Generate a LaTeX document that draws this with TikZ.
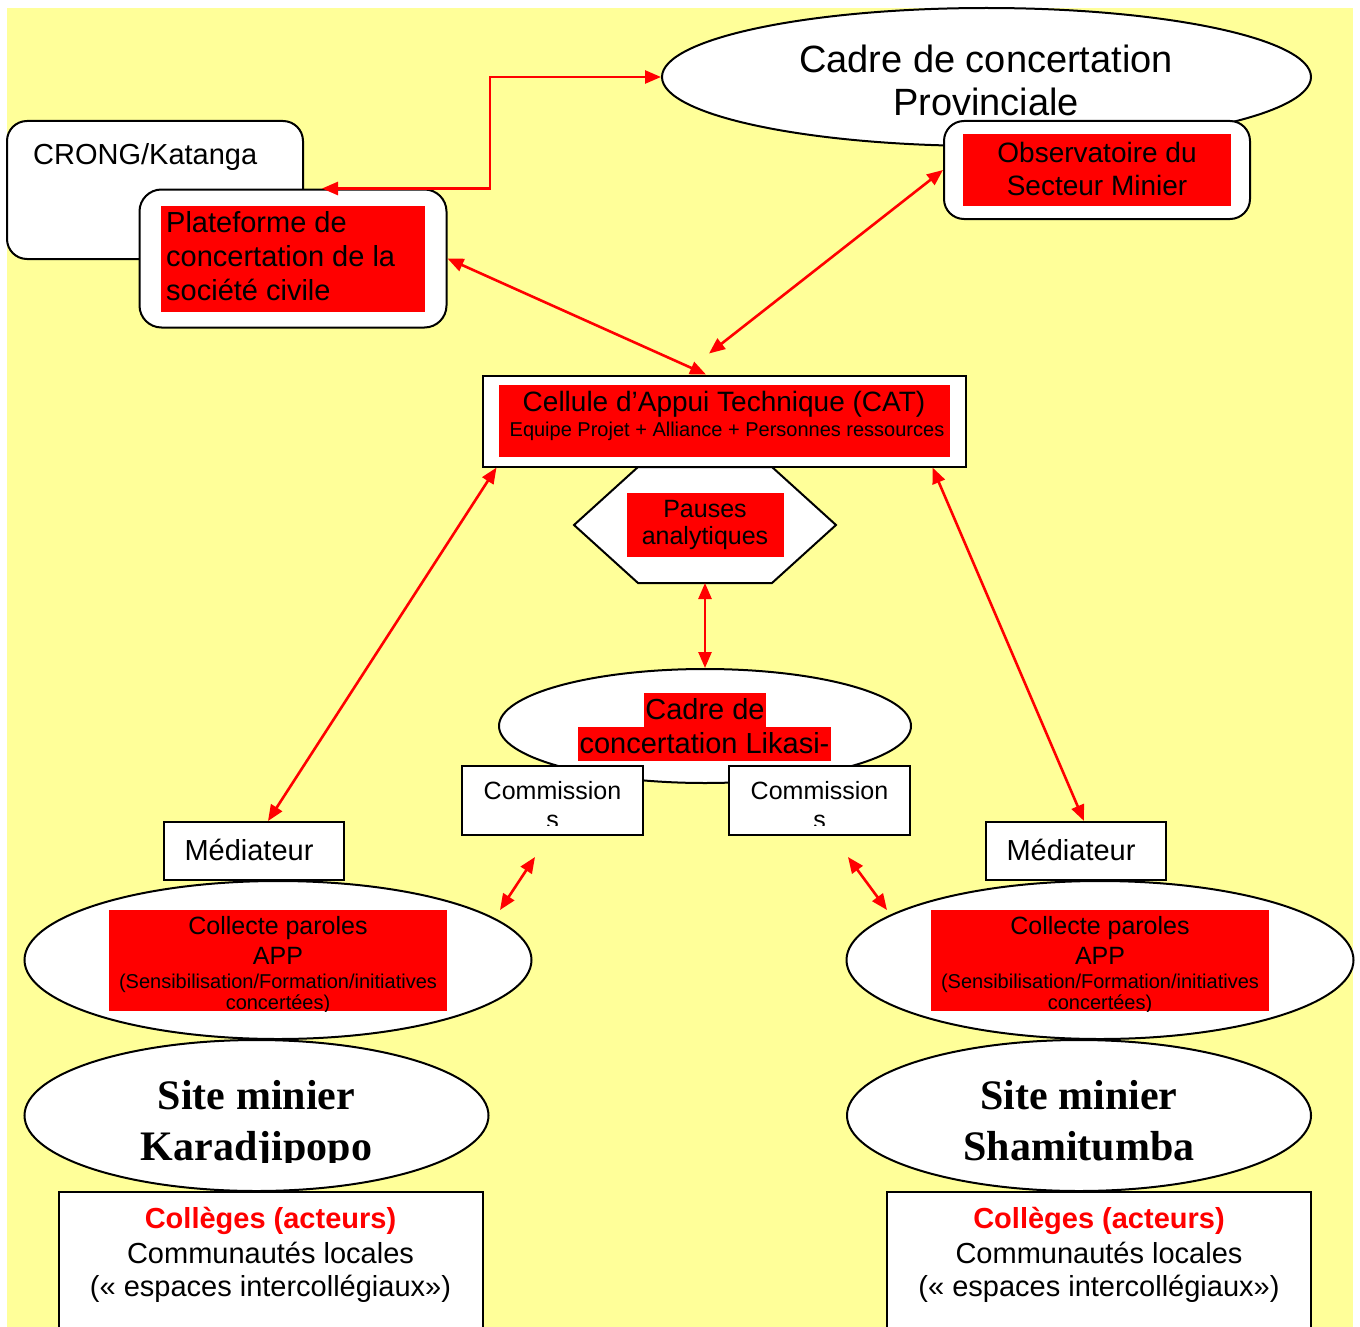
\documentclass[tikz,border=0pt]{standalone}
\usepackage{fontspec}
\setmainfont{Liberation Sans}
\newfontfamily\siteserif{Liberation Serif}
\usepackage{tikz}
\usetikzlibrary{positioning}
\usetikzlibrary{arrows.meta, calc, shapes.geometric}

\definecolor{fondjaune}{HTML}{FFFF99}
\definecolor{rouge}{HTML}{FF0000}

\begin{document}
\begin{tikzpicture}[x=1pt,y=-1pt]

\tikzset{boite/.style={draw, line width=2pt, fill=white, inner sep=0pt},
	boite arrondie/.style={boite, rounded corners=#1},
	boite arrondie/.default=20pt,
	ovale/.style={draw, line width=2pt, fill=white, ellipse, inner sep=0pt},
	fond rouge/.style={fill=rouge, inner sep=0pt},
	texte/.style={inner sep=0pt, anchor=base, font=\fontsize{#1}{#1}\selectfont},
	texte/.default=29,
	texte site/.style={inner sep=0pt, anchor=base, font=\siteserif\bfseries\fontsize{42}{42}\selectfont},
	lien/.style={draw=rouge, line width=2.6pt,
		{Triangle[length=16pt,width=13pt]}-{Triangle[length=16pt,width=13pt]}}
}

\useasboundingbox (0,0) rectangle (1360,1327);
\fill[fondjaune] (7,8) rectangle (1353,1327);

% CRONG et plateforme
\node[boite arrondie, minimum width=296pt, minimum height=138pt] (crong) at (155,190) {};
\node[texte, anchor=base west] (crong-txt) at (33,164.5) {CRONG/Katanga};
\node[boite arrondie=22pt, minimum width=307pt, minimum height=138pt] (plat) at (293,258.5) {};
\node[fond rouge, minimum width=264pt, minimum height=106pt] (plat-red) at (293,258.5) {};
\foreach \ligne [count=\i] in {Plateforme de, concertation de la, société civile}
	\node[texte, anchor=base west] (plat-\i) at (166,198+34*\i) {\ligne};
\coordinate (platin) at ($(plat.north west)+(183.5,0)$);

% cadre provincial
\node[ovale, minimum width=649pt, minimum height=138pt] (cadreprov) at (986.5,77) {};
\node[texte=38] (cadreprov-1) at (986,73) {Cadre de concertation};
\node[texte=38] (cadreprov-2) at (986,116) {Provinciale};

\node[boite arrondie, minimum width=306pt, minimum height=98pt] (obs) at (1097,170) {};
\node[fond rouge, minimum width=268pt, minimum height=72pt] (obs-red) at (1097,170) {};
\node[texte=28] (obs-1) at (1097,162) {Observatoire du};
\node[texte=28] (obs-2) at (1097,195) {Secteur Minier};

% CAT
\node[boite, minimum width=483pt, minimum height=91pt] (cat) at (724,421) {};
\node[fond rouge, minimum width=451pt, minimum height=72pt] (cat-red) at (724,421) {};
\node[texte=28] (cat-1) at (724,411) {Cellule d’Appui Technique (CAT)};
\node[texte=20] (cat-2) at (727,436) {Equipe Projet + Alliance + Personnes ressources};

% pauses
\coordinate (hexc) at (705,525);
\draw[line width=2pt, fill=white] (hexc) ++(-67,-58) -- ++(134,0) -- ++(64,58) -- ++(-64,58) -- ++(-134,0) -- ++(-64,-58) -- cycle;
\path (hexc) ++(0,58) coordinate (hexbas);
\node[fond rouge, minimum width=157pt, minimum height=64pt] (pauses) at (705.5,525) {};
\node[texte=25] (pauses-1) at (705,517) {Pauses};
\node[texte=25] (pauses-2) at (705,544) {analytiques};

% Likasi
\node[ovale, minimum width=412pt, minimum height=114pt] (likasi) at (705,726) {};
\node[fond rouge, texte, text height=26.5pt, text depth=7.5pt, inner xsep=1.5pt] (likasi-1) at (705,719.5) {Cadre de};
\node[fond rouge, texte, text height=26.5pt, text depth=7.5pt, inner xsep=1.5pt] (likasi-2) at (704.5,753.5) {concertation Likasi-};

\node[boite, minimum width=181pt, minimum height=69pt] (comg) at (552.5,800.5) {};
\node[boite, minimum width=181pt, minimum height=69pt] (comd) at (819.5,800.5) {};
\begin{scope}
	\clip (comg.north west) rectangle ($(comd.south east)+(0,-11)$);
	\foreach \c in {comg, comd} {
		\node[texte=25] (\c-1) at ($(\c.north)+(0,34)$) {Commission};
		\node[texte=25] (\c-2) at ($(\c.north)+(0,63)$) {s};
	}
\end{scope}

% mediateurs
\node[boite, minimum width=180pt, minimum height=58pt] (medg) at (254,851) {};
\node[texte] (medg-txt) at (249,860) {Médiateur};
\node[boite, minimum width=180pt, minimum height=58pt] (medd) at (1076,851) {};
\node[texte] (medd-txt) at (1071,860) {Médiateur};

% collecte, sites, colleges
\foreach \c/\x in {g/278, d/1100} {
	\node[ovale, minimum width=507pt, minimum height=158pt] (coll\c) at (\x,960) {};
	\node[fond rouge, minimum width=338pt, minimum height=101pt] (coll\c-red) at (\x,960.5) {};
	\begin{scope}
		\clip (coll\c-red.north west) rectangle (coll\c-red.south east);
		\node[texte=25] (coll\c-1) at (\x,934.5) {Collecte paroles};
		\node[texte=25] (coll\c-2) at (\x,964) {APP};
		\node[texte=20] (coll\c-3) at (\x,988) {(Sensibilisation/Formation/initiatives};
		\node[texte=20] (coll\c-4) at (\x,1009) {concertées)};
	\end{scope}
}
\foreach \c/\x/\nom in {g/256.5/Karadjipopo, d/1079/Shamitumba} {
	\node[ovale, minimum width=464pt, minimum height=151pt] (site\c) at (\x,1115.5) {};
	\begin{scope}
		\clip (site\c.north west) rectangle ($(site\c.east)+(0,46.5)$);
		\node[texte site] (site\c-1) at (\x,1109) {Site minier};
		\node[texte site] (site\c-2) at (\x,1160) {\nom};
	\end{scope}
}
\foreach \c/\x in {g/270.5, d/1099} {
	\node[boite, minimum width=424pt, minimum height=160pt, anchor=north] (colleges\c) at (\x,1191) {};
	\node[texte, font=\bfseries\fontsize{29}{29}\selectfont, text=rouge] (colleges\c-1) at (\x,1228.5) {Collèges (acteurs)};
	\node[texte] (colleges\c-2) at (\x,1263) {Communautés locales};
	\node[texte] (colleges\c-3) at (\x,1296) {(« espaces intercollégiaux»)};
}

% liens
\draw[lien] (platin) -- ++(168,0) |- (cadreprov.west);
\draw[lien] (plat.east) -- ($(cat.north)+(-18,0)$);
\draw[lien] (obs.west) -- ($(cat.north)+(-15,-21)$);
\draw[lien] ($(cat.south west)+(15,0)$) -- ($(medg.north)+(14,0)$);
\draw[lien] ($(cat.south east)+(-34,0)$) -- ($(medd.north)+(8,0)$);
\draw[lien] (hexbas) -- (likasi.north);
\draw[lien] ($(comg.south)+(-17.5,21)$) -- ($(comg.south)+(-52.5,74)$);
\draw[lien] ($(comd.south)+(28.5,21)$) -- ($(comd.south)+(67.5,74)$);

\end{tikzpicture}
\end{document}
